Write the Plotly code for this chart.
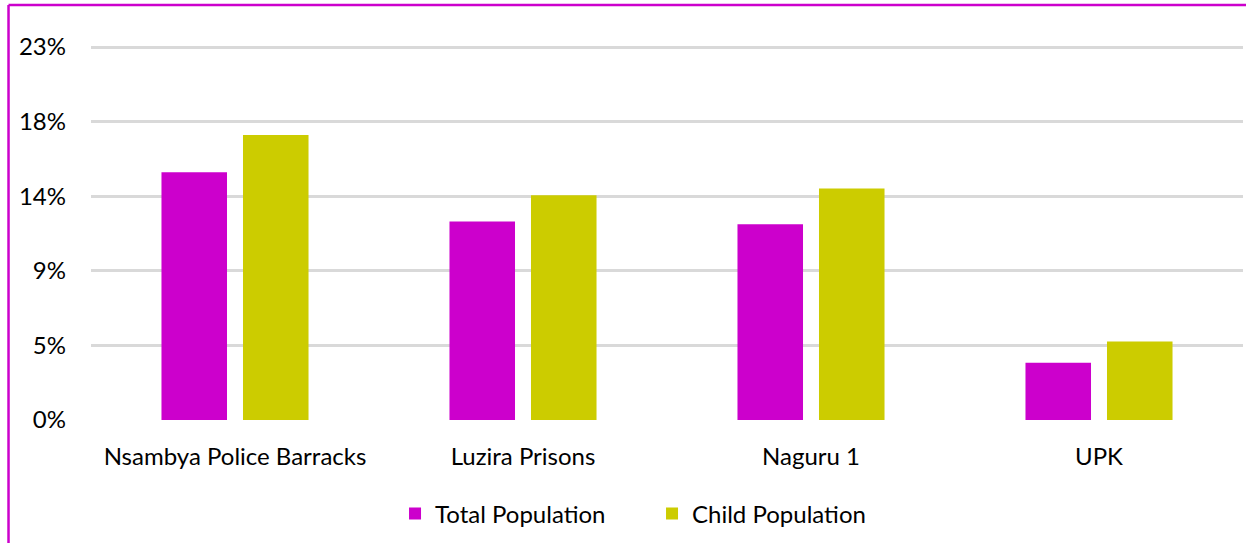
import plotly.graph_objects as go

# datos
sitios = ["Nsambya Police Barracks", "Luzira Prisons", "Naguru 1", "UPK"]
total_pob = [0.1495, 0.1197, 0.1181, 0.0345]
nino_pob = [0.1719, 0.1355, 0.1396, 0.0474]
y_ticks = [0, 0.045, 0.09, 0.135, 0.18, 0.225]
y_labels = ["0%", "5%", "9%", "14%", "18%", "23%"]

MAGENTA = "#CC00CC"
AMARILLO = "#CCCC00"
FUENTE = "Lato"

fig = go.Figure()

fig.add_trace(go.Bar(
    x=sitios, y=total_pob, name="Total Population",
    marker=dict(color=MAGENTA, line=dict(width=0)),
))
fig.add_trace(go.Bar(
    x=sitios, y=nino_pob, name="Child Population",
    marker=dict(color=AMARILLO, line=dict(width=0)),
))

# marco magenta (solo arriba e izquierda)
fig.add_shape(type="line", xref="paper", yref="paper",
              x0=-0.0716, x1=1.01, y0=1.1037, y1=1.1037,
              line=dict(color=MAGENTA, width=2.5))
fig.add_shape(type="line", xref="paper", yref="paper",
              x0=-0.0716, x1=-0.0716, y0=1.1037, y1=-0.35,
              line=dict(color=MAGENTA, width=2.5))

fig.update_layout(
    width=1246, height=543,
    margin=dict(l=91, r=3, t=44, b=123),
    plot_bgcolor="white", paper_bgcolor="white",
    barmode="group", bargap=0.434, bargroupgap=0.196,
    font=dict(family=FUENTE, size=24, color="#000000"),
    xaxis=dict(showgrid=False, showline=False, ticks="",
               ticklabelstandoff=20, tickfont=dict(size=24)),
    yaxis=dict(range=[0, 0.22681], tickvals=y_ticks, ticktext=y_labels,
               showgrid=True, gridcolor="#D9D9D9", gridwidth=2.5,
               zeroline=False, showline=False, ticks="",
               ticklabelstandoff=24, tickfont=dict(size=24)),
    legend=dict(orientation="h", x=0.487, xanchor="center",
                y=-0.25, yanchor="middle", font=dict(size=24),
                itemwidth=30, entrywidth=212, traceorder="normal"),
    showlegend=True,
)

fig.write_html("out.html", config={"displayModeBar": False},
               post_script="document.body.style.margin='0';")
